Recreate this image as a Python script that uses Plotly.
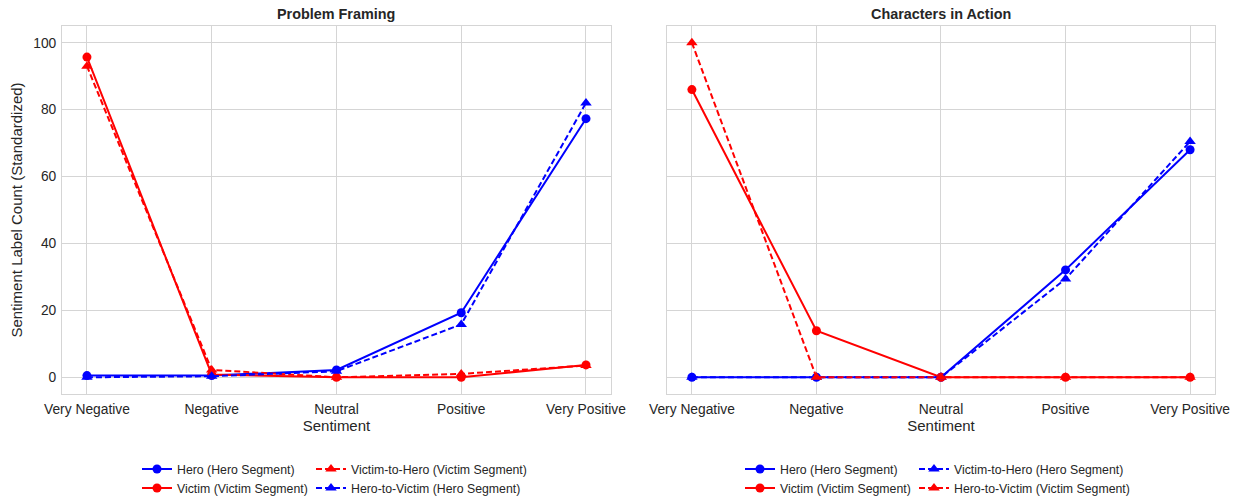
import plotly.graph_objects as go

categories = ["Very Negative", "Negative", "Neutral", "Positive", "Very Positive"]

# Problem Framing
pf_hero = [0.5, 0.5, 2.2, 19.3, 77.3]
pf_victim = [95.7, 0.8, 0.0, 0.0, 3.7]
pf_v2h_victim_seg = [93.0, 2.2, 0.0, 1.0, 3.5]
pf_h2v_hero_seg = [0.0, 0.3, 1.8, 15.8, 82.0]

# Characters in Action
ca_hero = [0.0, 0.0, 0.0, 32.1, 68.0]
ca_victim = [86.0, 13.9, 0.0, 0.0, 0.0]
ca_v2h_hero_seg = [0.0, 0.0, 0.0, 29.4, 70.5]
ca_h2v_victim_seg = [100.0, 0.0, 0.0, 0.0, 0.0]

titles = ["Problem Framing", "Characters in Action"]
y_ticks = [0, 20, 40, 60, 80, 100]

BLUE = "#0000ff"
RED = "#ff0000"
DASH = "6px,3px"
FONT = "Liberation Sans, Arial, sans-serif"
TXT = "#262626"
GRID = "#d5d5d5"

D1 = [0, 0.4761]
D2 = [0.5247, 1]

W, H = 1237, 499
ROW1 = 1 - 469 / H
ROW2 = 1 - 488 / H

fig = go.Figure()
legends = {}
counter = [0]

def add(x_ax, y_ax, name, vals, color, dashed, lx, ly):
    counter[0] += 1
    lid = "legend" if counter[0] == 1 else "legend%d" % counter[0]
    legends[lid] = dict(x=lx / W, y=ly)
    fig.add_trace(go.Scatter(
        x=categories, y=vals, name=name, xaxis=x_ax, yaxis=y_ax,
        mode="lines+markers", showlegend=True,
        line=dict(color=color, width=2, dash=DASH if dashed else "solid"),
        marker=dict(color=color, size=9 if not dashed else 10,
                    symbol="triangle-up" if dashed else "circle"),
        legend=lid,
    ))

add("x", "y", "Hero (Hero Segment)", pf_hero, BLUE, False, 137, ROW1)
add("x", "y", "Victim (Victim Segment)", pf_victim, RED, False, 137, ROW2)
add("x", "y", "Victim-to-Hero (Victim Segment)", pf_v2h_victim_seg, RED, True, 311, ROW1)
add("x", "y", "Hero-to-Victim (Hero Segment)", pf_h2v_hero_seg, BLUE, True, 311, ROW2)

add("x2", "y2", "Hero (Hero Segment)", ca_hero, BLUE, False, 740, ROW1)
add("x2", "y2", "Victim (Victim Segment)", ca_victim, RED, False, 740, ROW2)
add("x2", "y2", "Victim-to-Hero (Hero Segment)", ca_v2h_hero_seg, BLUE, True, 914, ROW1)
add("x2", "y2", "Hero-to-Victim (Victim Segment)", ca_h2v_victim_seg, RED, True, 914, ROW2)

axis_common = dict(
    showgrid=True, gridcolor=GRID, gridwidth=1,
    showline=True, linecolor=GRID, linewidth=1, mirror=True,
    zeroline=False, ticks="", automargin=False, ticklabelstandoff=2,
    tickfont=dict(family=FONT, size=13.8, color=TXT),
)

xcommon = dict(axis_common, type="category", range=[-0.2, 4.2],
               title=dict(text="Sentiment", font=dict(family=FONT, size=15, color=TXT), standoff=4))
ycommon = dict(axis_common, range=[-5, 105], tickvals=y_ticks)

legend_common = dict(orientation="h", xanchor="left", yanchor="middle",
                     xref="container", yref="container",
                     font=dict(family=FONT, size=12.3, color=TXT),
                     itemwidth=30, bgcolor="rgba(0,0,0,0)", tracegroupgap=0)

layout_legends = {k: dict(legend_common, **v) for k, v in legends.items()}

fig.update_layout(
    width=W, height=H,
    showlegend=True,
    margin=dict(l=62, r=22, t=26, b=105),
    plot_bgcolor="white", paper_bgcolor="white",
    font=dict(family=FONT, color=TXT),
    xaxis=dict(xcommon, domain=D1, anchor="y"),
    xaxis2=dict(xcommon, domain=D2, anchor="y2"),
    yaxis=dict(ycommon, anchor="x",
               title=dict(text="Sentiment Label Count (Standardized)",
                          font=dict(family=FONT, size=15, color=TXT), standoff=6)),
    yaxis2=dict(ycommon, anchor="x2", matches="y", showticklabels=False),
    annotations=[
        dict(text="<b>%s</b>" % titles[0], x=sum(D1) / 2, y=1, xref="paper", yref="paper",
             xanchor="center", yanchor="bottom", yshift=2, showarrow=False,
             font=dict(family=FONT, size=14.4, color=TXT)),
        dict(text="<b>%s</b>" % titles[1], x=sum(D2) / 2, y=1, xref="paper", yref="paper",
             xanchor="center", yanchor="bottom", yshift=2, showarrow=False,
             font=dict(family=FONT, size=14.4, color=TXT)),
    ],
    **layout_legends,
)

fig.write_html("out.html", config={"displayModeBar": False},
               post_script="document.body.style.margin='0px';")
